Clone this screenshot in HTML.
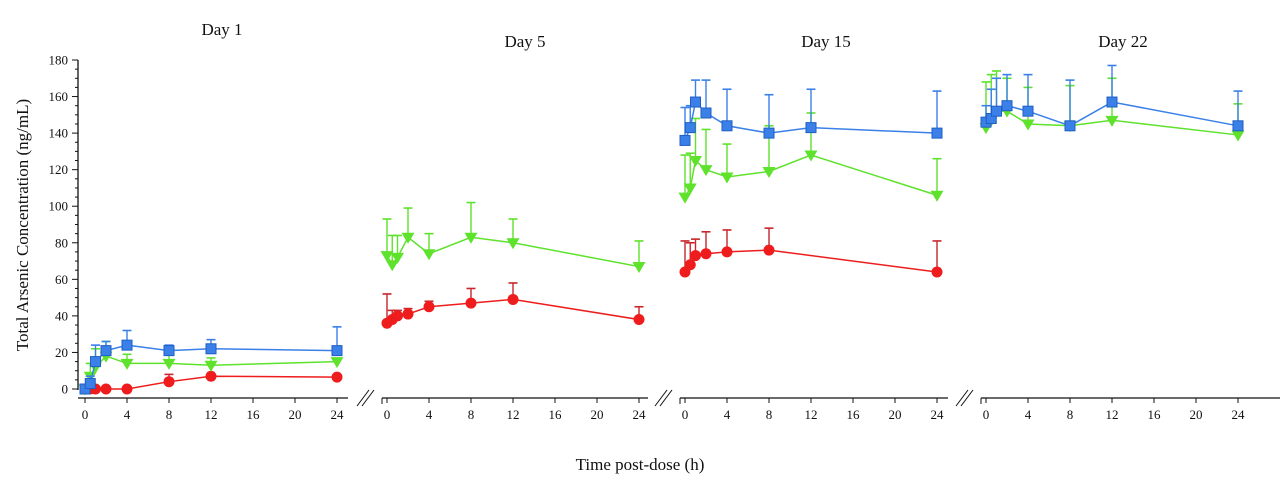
<!DOCTYPE html>
<html><head><meta charset="utf-8"><style>
html,body{margin:0;padding:0;background:#fff;}
svg text{font-family:"Liberation Serif",serif;fill:#111;}
</style></head><body>
<svg id="chart" width="1280" height="494" viewBox="0 0 1280 494" xmlns="http://www.w3.org/2000/svg">
<g id="axes"></g><g id="marks"></g>
</svg>
<script>
const times = [0, 0.5, 1, 2, 4, 8, 12, 24];
const dayLabels = ["Day 1", "Day 5", "Day 15", "Day 22"];
const xTicks = [0, 4, 8, 12, 16, 20, 24];
const yTicks = [0, 20, 40, 60, 80, 100, 120, 140, 160, 180];
// series per day: [mean], [mean+SD]
const blueMean = [[0,3,15,21,24,21,22,21], null, [136,143,157,151,144,140,143,140], [146,148,152,155,152,144,157,144]];
const blueErr  = [[null,7,24,26,32,24,27,34], null, [154,155,169,169,164,161,164,163], [155,164,170,172,172,169,177,163]];
const greenMean = [[0,7,12,18,14,14,13,15], [73,68,72,83,74,83,80,67], [105,110,125,120,116,119,128,106], [143,147,152,152,145,144,147,139]];
const greenErr  = [[null,14,22,26,19,19,17,null], [93,84,84,99,85,102,93,81], [128,129,148,142,134,144,151,126], [168,172,174,170,165,166,170,156]];
const redMean = [[0,0,0,0,0,4,7,6.5], [36,38,40,41,45,47,49,38], [64,68,73,74,75,76,null,64], null];
const redErr  = [[null,null,null,null,null,8,7.5,null], [52,43,43,44,48,55,58,45], [81,80,82,86,87,88,null,81], null];

const NS="http://www.w3.org/2000/svg";
const panelX0=[85,387,685,986];
const pxPerH=10.5;
const y0=389, pxPerUnit=329/180, axisY=398;
const X=(p,t)=>panelX0[p]+t*pxPerH;
const Y=v=>y0-v*pxPerUnit;
const axes=document.getElementById('axes'), marks=document.getElementById('marks');
function mk(tag,attrs,parent){const e=document.createElementNS(NS,tag);for(const k in attrs)e.setAttribute(k,attrs[k]);parent.appendChild(e);return e;}

let ya=mk('line',{x1:78,y1:Y(180),x2:78,y2:Y(0)+1,stroke:'#111','stroke-width':1.3},axes);


for(let v=0;v<=180;v+=5){mk('line',{x1:v%20===0?72:75,y1:Y(v),x2:78,y2:Y(v),stroke:'#111','stroke-width':1},axes);}
yTicks.forEach(v=>{const t=mk('text',{x:68,y:Y(v)+4.5,'text-anchor':'end','font-size':13},axes);t.textContent=v;

});
let yt=mk('text',{x:28,y:225,'text-anchor':'middle','font-size':17,transform:'rotate(-90 28 225)'},axes);
yt.textContent='Total Arsenic Concentration (ng/mL)';


let xt=mk('text',{x:640,y:470,'text-anchor':'middle','font-size':17},axes);
xt.textContent='Time post-dose (h)';



const axisStart=[78,382,680,981], axisEnd=[348,648,948,1280];
const titleX=[222,525,826,1123], titleY=[35,47,47,47];
for(let p=0;p<4;p++){
  const l=mk('line',{x1:axisStart[p],y1:axisY,x2:axisEnd[p],y2:axisY,stroke:'#111','stroke-width':1.3},axes);
  
  
  if(p>0){mk('line',{x1:axisStart[p],y1:axisY,x2:axisStart[p],y2:axisY+6,stroke:'#111'},axes);}
  xTicks.forEach(t=>{mk('line',{x1:X(p,t),y1:axisY,x2:X(p,t),y2:axisY+5,stroke:'#111'},axes);
    const tx=mk('text',{x:X(p,t),y:axisY+21,'text-anchor':'middle','font-size':13},axes);tx.textContent=t;
    
    });
  const tt=mk('text',{x:titleX[p],y:titleY[p],'text-anchor':'middle','font-size':17},axes);tt.textContent=dayLabels[p];
  
  
  if(p>0){const bx=axisStart[p]-17;
    mk('line',{x1:bx-8,y1:axisY+8,x2:bx+4,y2:axisY-8,stroke:'#111'},axes);
    mk('line',{x1:bx-3,y1:axisY+8,x2:bx+9,y2:axisY-8,stroke:'#111'},axes);}
}

function drawSeries(means,errs,color,errColor,shape,name){
  for(let p=0;p<4;p++){
    const m=means[p]; if(!m) continue; const e=errs[p];
    const g=mk('g',{},marks);
    
    
    times.forEach((t,i)=>{if(e[i]==null||m[i]==null)return;const x=X(p,t);
      mk('line',{x1:x,y1:Y(m[i]),x2:x,y2:Y(e[i]),stroke:errColor,'stroke-width':1.4},g);
      mk('line',{x1:x-4.5,y1:Y(e[i]),x2:x+4.5,y2:Y(e[i]),stroke:errColor,'stroke-width':1.6},g);});
    let d='';times.forEach((t,i)=>{if(m[i]==null)return;d+=(d?'L':'M')+X(p,t)+' '+Y(m[i]);});
    mk('path',{d:d,fill:'none',stroke:color,'stroke-width':1.5},g);
    times.forEach((t,i)=>{if(m[i]==null)return;const x=X(p,t),y=Y(m[i]);let s;
      if(shape==='sq') s=mk('rect',{x:x-5,y:y-5,width:10,height:10,fill:color,stroke:'#1f5fc4','stroke-width':1},g);
      else if(shape==='ci') s=mk('circle',{cx:x,cy:y,r:5.5,fill:color},g);
      else s=mk('path',{d:`M${x-6.5} ${y-4.5}L${x+6.5} ${y-4.5}L${x} ${y+6.5}Z`,fill:color},g);
      
      });
  }
}
drawSeries(redMean,redErr,'#ee1c1c','#c8262c','ci','red-series');
drawSeries(greenMean,greenErr,'#5ee22c','#5ee22c','tri','green-series');
drawSeries(blueMean,blueErr,'#3a80e8','#3a80e8','sq','blue-series');
</script>
</body></html>
